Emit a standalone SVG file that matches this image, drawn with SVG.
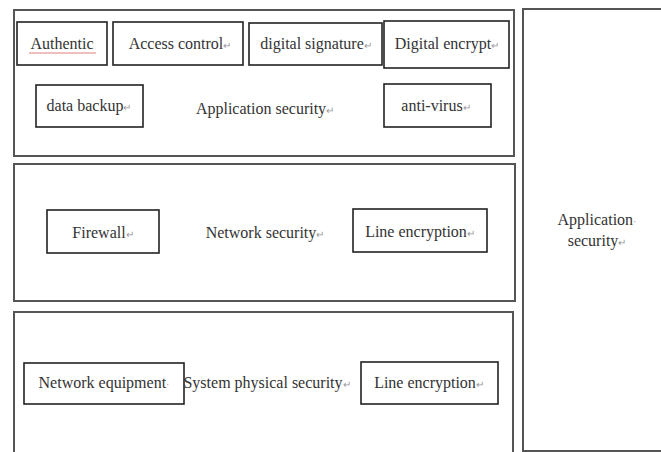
<svg xmlns="http://www.w3.org/2000/svg" width="661" height="452" viewBox="0 0 661 452">
<style>
.outer{fill:none;stroke:#555;stroke-width:2}
.box{fill:#fff;stroke:#222;stroke-width:1.6}
.t{font-family:"Liberation Serif","Times New Roman",serif;font-size:16px;fill:#333;text-anchor:middle}
.m{font-size:10px;fill:#999}
</style>
<rect width="661" height="452" fill="#fff"/>
<g id="app-layer">
<rect class="outer" x="14" y="10" width="500" height="146"/>
<text class="t" x="265" y="114">Application security<tspan class="m">↵</tspan></text>
</g>
<g id="net-layer">
<rect class="outer" x="14" y="164" width="501" height="137"/>
<text class="t" x="265" y="238">Network security<tspan class="m">↵</tspan></text>
</g>
<g id="phys-layer">
<rect class="outer" x="14" y="312" width="499" height="150"/>
</g>
<g id="right-panel">
<rect class="outer" x="523" y="9" width="150" height="442"/>
<text class="t" x="597" y="225">Application<tspan class="m">·</tspan></text>
<text class="t" x="597" y="246">security<tspan class="m">↵</tspan></text>
</g>
<g id="authentic">
<rect class="box" x="17" y="22" width="90" height="43"/>
<text class="t" x="62" y="49">Authentic</text>
<line x1="29" y1="53" x2="96" y2="53" stroke="#e08080" stroke-width="1"/>
</g>
<g id="access-control">
<rect class="box" x="113" y="22" width="130" height="43"/>
<text class="t" x="180" y="49">Access control<tspan class="m">↵</tspan></text>
</g>
<g id="digital-signature">
<rect class="box" x="249" y="23" width="133" height="42"/>
<text class="t" x="316" y="49">digital signature<tspan class="m">↵</tspan></text>
</g>
<g id="digital-encrypt">
<rect class="box" x="384" y="21" width="125" height="47"/>
<text class="t" x="447" y="49">Digital encrypt<tspan class="m">↵</tspan></text>
</g>
<g id="data-backup">
<rect class="box" x="36" y="85" width="107" height="42"/>
<text class="t" x="89" y="111">data backup<tspan class="m">↵</tspan></text>
</g>
<g id="anti-virus">
<rect class="box" x="384" y="84" width="107" height="43"/>
<text class="t" x="436" y="111">anti-virus<tspan class="m">↵</tspan></text>
</g>
<g id="firewall">
<rect class="box" x="47" y="210" width="112" height="43"/>
<text class="t" x="103" y="238">Firewall<tspan class="m">↵</tspan></text>
</g>
<g id="line-encryption-1">
<rect class="box" x="353" y="209" width="134" height="43"/>
<text class="t" x="420" y="237">Line encryption<tspan class="m">↵</tspan></text>
</g>
<g id="network-equipment">
<rect class="box" x="24" y="363" width="160" height="41"/>
<text class="t" x="104" y="388">Network equipment<tspan class="m">·</tspan></text>
</g>
<text class="t" x="267" y="388">System physical security<tspan class="m">↵</tspan></text>
<g id="line-encryption-2">
<rect class="box" x="361" y="362" width="137" height="42"/>
<text class="t" x="429" y="388">Line encryption<tspan class="m">↵</tspan></text>
</g>
<g id="connectors"></g>
</svg>
